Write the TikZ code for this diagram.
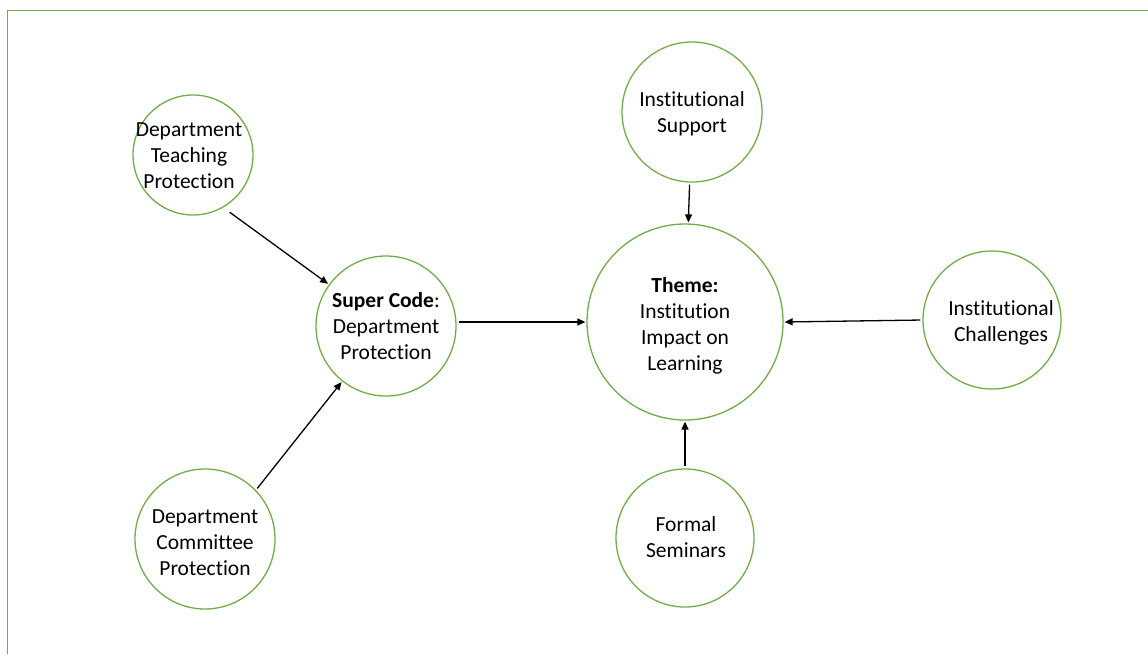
\documentclass[tikz,border=0pt]{standalone}
\usepackage{fontspec}
\setmainfont{Carlito}[Ligatures=NoCommon]
\usetikzlibrary{arrows.meta}
\definecolor{leaf}{HTML}{70AD47}
\begin{document}
\begin{tikzpicture}[x=1pt,y=-1pt,
  txt/.style={align=center,font=\fontsize{21.5}{26}\selectfont},
  bubble/.style={circle,draw=leaf,line width=1.3pt,inner sep=0pt},
  link/.style={line width=1.3pt,-{Triangle[length=8pt,width=7pt]},shorten >=1pt,shorten <=2pt}]
\useasboundingbox (0,0) rectangle (1148,654);
% frame lines along the top and left
\draw[leaf,line width=1.3pt] (1148,10.5) -- (7.5,10.5) -- (7.5,654);

% circles
\node[bubble,minimum size=120pt] (teach) at (193,155) {};
\node[bubble,minimum size=140pt] (super) at (386,326) {};
\node[bubble,minimum size=196pt] (theme) at (685,322) {};
\node[bubble,minimum size=140pt] (support) at (692,112) {};
\node[bubble,minimum size=138pt] (chall) at (992,320) {};
\node[bubble,minimum size=138pt] (semin) at (685,538) {};
\node[bubble,minimum size=140pt] (commit) at (205,539) {};

% circle texts
\node[txt] (teachtext) at (189,156) {Department\\Teaching\\Protection};
\node[txt] (supertext) at (386,326) {\textbf{Super Code}:\\Department\\Protection};
\node[txt] (themetext) at (685,326) {\textbf{Theme:}\\Institution\\Impact on\\Learning};
\node[txt] (supporttext) at (692,114) {Institutional\\Support};
\node[txt] (challtext) at (1001,323) {Institutional\\Challenges};
\node[txt] (semintext) at (686,537) {Formal\\Seminars};
\node[txt] (committext) at (205,543) {Department\\Committee\\Protection};

% connectors
\coordinate (a1) at (228,211);
\coordinate (a2) at (256,490);
\draw[link] (a1) -- (super);
\draw[link] (a2) -- (super);
\draw[link] (super.east |- theme.west) -- (theme.west);
\draw[link] (support) -- (theme);
\draw[link] (chall.west) -- (theme.east);
\draw[link] (semin) -- (theme);
\end{tikzpicture}
\end{document}
